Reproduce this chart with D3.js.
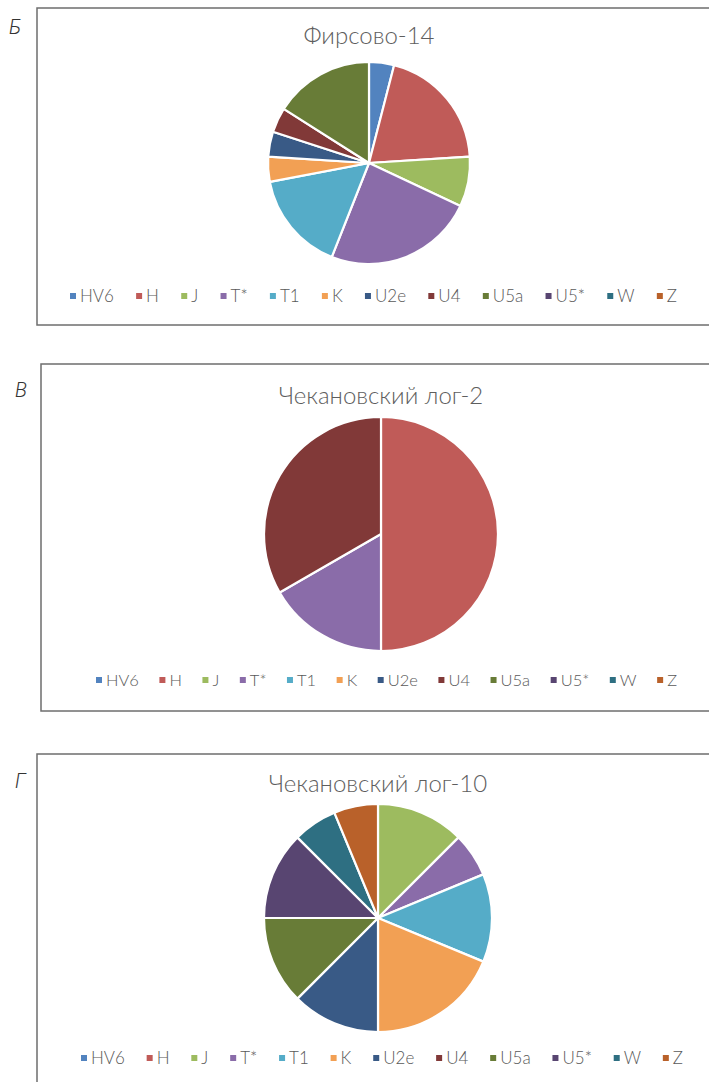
<!DOCTYPE html>
<html>
<head>
<meta charset="utf-8">
<script src="https://cdn.jsdelivr.net/npm/d3@7"></script>
<style>
  body { margin: 0; background: #fff; }
  svg { display: block; }
</style>
</head>
<body>
<div id="chart"></div>
<script>
// haplogroup categories and colours (same order in every panel)
const haplogroups = ["HV6", "H", "J", "T*", "T1", "K", "U2e", "U4", "U5a", "U5*", "W", "Z"];
const hapColors = ["#5283bf", "#c05b58", "#9dbb5f", "#8a6ca9", "#55acc8", "#f2a054",
                   "#395a86", "#813938", "#687c37", "#584571", "#2e6f82", "#b9612a"];

// counts per site
const firsovo14 = [1, 5, 2, 6, 4, 1, 1, 1, 4, 0, 0, 0];
const chekLog2  = [0, 3, 0, 1, 0, 0, 0, 2, 0, 0, 0, 0];
const chekLog10 = [0, 0, 2, 1, 2, 3, 2, 0, 2, 2, 1, 1];

const panelLetters = ["Б", "В", "Г"];
const panelTitles = ["Фирсово-14", "Чекановский лог-2", "Чекановский лог-10"];

const width = 709, height = 1082;

const svg = d3.select("#chart")
  .append("svg")
  .attr("width", width)
  .attr("height", height);

// panel geometry (frame, pie, title, legend)
const panels = [
  {values: firsovo14, box: [37, 8, 720, 325], letterY: 34, letterX: 9,
   titleY: 44, cx: 369, cy: 163, r: 101, legY: 296, legX0: 70, legX1: 677, legSize: 17},
  {values: chekLog2, box: [41, 364, 720, 711], letterY: 397, letterX: 15,
   titleY: 404, cx: 381, cy: 534, r: 117, legY: 680, legX0: 96, legX1: 677, legSize: 16.5},
  {values: chekLog10, box: [37, 754, 720, 1100], letterY: 788, letterX: 15,
   titleY: 792, cx: 378, cy: 918, r: 114, legY: 1058, legX0: 81, legX1: 683, legSize: 17}
];

const pie = d3.pie().sort(null).value(d => d);

panels.forEach((p, i) => {
  const g = svg.append("g");

  // frame
  g.append("rect")
    .attr("x", p.box[0])
    .attr("y", p.box[1])
    .attr("width", p.box[2] - p.box[0])
    .attr("height", p.box[3] - p.box[1])
    .attr("fill", "none")
    .attr("stroke", "#6e6e6e")
    .attr("stroke-width", 1.5);

  // panel letter
  g.append("text")
    .attr("x", p.letterX)
    .attr("y", p.letterY)
    .attr("font-family", "Roboto")
    .attr("font-style", "italic")
    .attr("font-weight", 300)
    .attr("font-size", "20px")
    .attr("fill", "#333")
    .text(panelLetters[i]);

  // title
  g.append("text")
    .attr("x", p.cx)
    .attr("y", p.titleY)
    .attr("text-anchor", "middle")
    .attr("font-family", "Lato")
    .attr("font-weight", 300)
    .attr("font-size", "24px")
    .attr("fill", "#5e5e5e")
    .text(panelTitles[i]);

  // pie
  const arc = d3.arc().innerRadius(0).outerRadius(p.r);
  g.append("g")
    .attr("transform", `translate(${p.cx},${p.cy})`)
    .selectAll("path")
    .data(pie(p.values).map((d, k) => ({...d, k})).filter(d => d.value > 0))
    .enter()
    .append("path")
    .attr("d", arc)
    .attr("fill", d => hapColors[d.k])
    .attr("stroke", "#fff")
    .attr("stroke-width", 2.2)
    .attr("stroke-linejoin", "round");

  // legend: measure items, then spread across the target span
  const leg = g.append("g");
  const items = leg.selectAll("g.item")
    .data(haplogroups)
    .enter()
    .append("g")
    .attr("class", "item");

  items.append("rect")
    .attr("width", 6)
    .attr("height", 6)
    .attr("y", -9)
    .attr("fill", (d, k) => hapColors[k]);

  items.append("text")
    .attr("x", 10)
    .attr("y", 0)
    .attr("font-family", "Lato")
    .attr("font-weight", 300)
    .attr("font-size", p.legSize + "px")
    .attr("fill", "#595959")
    .text(d => d);

  const widths = [];
  items.each(function() {
    widths.push(10 + this.querySelector("text").getComputedTextLength());
  });
  const total = d3.sum(widths);
  const gap = (p.legX1 - p.legX0 - total) / (haplogroups.length - 1);
  let xpos = p.legX0;
  items.attr("transform", (d, k) => {
    const t = `translate(${xpos},${p.legY + 6})`;
    xpos += widths[k] + gap;
    return t;
  });
});
</script>
</body>
</html>
